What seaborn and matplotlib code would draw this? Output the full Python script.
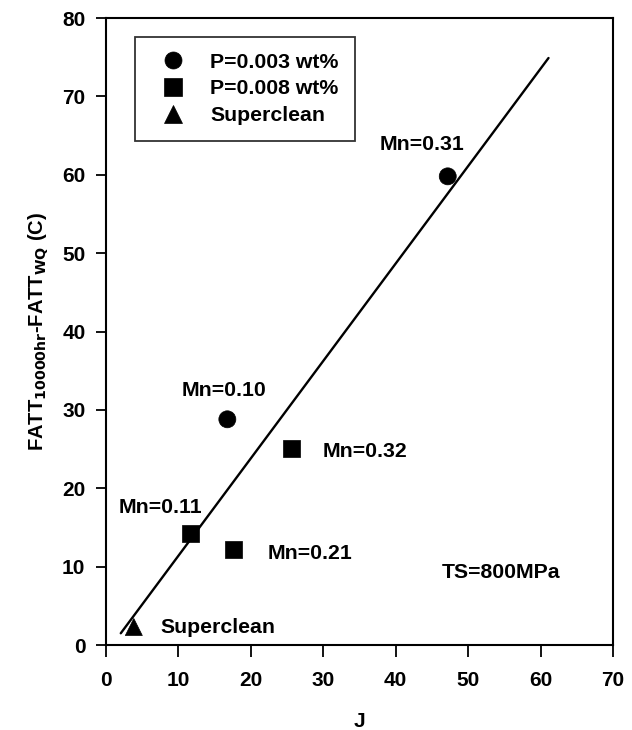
import matplotlib
matplotlib.use("Agg")
import matplotlib.pyplot as plt
import seaborn as sns
import pandas as pd

# Data
groups = ["P=0.003 wt%", "P=0.003 wt%", "P=0.008 wt%", "P=0.008 wt%", "P=0.008 wt%", "Superclean"]
j_vals = [47.2, 16.8, 25.7, 11.7, 17.6, 3.9]
fatt_vals = [59.8, 28.8, 25.1, 14.2, 12.2, 2.3]
point_labels = ["Mn=0.31", "Mn=0.10", "Mn=0.32", "Mn=0.11", "Mn=0.21", "Superclean"]
label_x = [43.7, 16.3, 30.0, 7.6, 22.3, 7.6]
label_y = [63.8, 32.5, 24.7, 17.6, 11.7, 2.3]
label_ha = ["center", "center", "left", "center", "left", "left"]

fit_x = [2.1, 61.1]
fit_y = [1.5, 74.9]

x_ticks = [0, 10, 20, 30, 40, 50, 60, 70]
y_ticks = [0, 10, 20, 30, 40, 50, 60, 70, 80]

sns.set_theme(style="ticks")
plt.rcParams['font.family'] = ['Liberation Sans', 'DejaVu Sans']
plt.rcParams['font.weight'] = 'bold'
for k in ["text.color", "axes.labelcolor", "xtick.color", "ytick.color", "axes.edgecolor"]:
    plt.rcParams[k] = "black"

FS = 15.3

fig = plt.figure(figsize=(6.32, 7.3), dpi=100)
ax = fig.add_axes([0.167, 0.1164, 0.803, 0.8589])

df = pd.DataFrame({"J": j_vals, "FATT": fatt_vals, "group": groups})
markers = {"P=0.003 wt%": "o", "P=0.008 wt%": "s", "Superclean": "^"}
sns.scatterplot(data=df, x="J", y="FATT", style="group", markers=markers,
                color="black", s=150, edgecolor="black", linewidth=0.5,
                ax=ax, legend=True, zorder=3)
sns.lineplot(x=fit_x, y=fit_y, color="black", linewidth=1.7, ax=ax, zorder=2)

for tx, ty, t, ha in zip(label_x, label_y, point_labels, label_ha):
    ax.text(tx, ty, t, ha=ha, va="center", fontsize=FS, fontweight="bold")

ax.text(46.4, 9.3, "TS=800MPa", ha="left", va="center", fontsize=FS, fontweight="bold")

ax.set_xlim(0, 70)
ax.set_ylim(0, 80)
ax.set_xticks(x_ticks)
ax.set_yticks(y_ticks)
ax.tick_params(axis="x", direction="out", length=8.5, width=1.3, pad=10, labelsize=15)
ax.tick_params(axis="y", direction="out", length=7.5, width=1.3, pad=7, labelsize=15)
for lab in ax.get_xticklabels() + ax.get_yticklabels():
    lab.set_fontweight("bold")
for sp in ax.spines.values():
    sp.set_visible(True)
    sp.set_linewidth(1.5)
    sp.set_color("black")

ax.set_xlabel("J", fontsize=15, fontweight="bold", labelpad=16)
ax.set_ylabel(r"FATT$_{\mathbf{10000hr}}$-FATT$_{\mathbf{WQ}}$ (C)", fontsize=14.5,
              fontweight="bold", labelpad=8)

handles, labels = ax.get_legend_handles_labels()
leg = ax.legend(handles, labels, loc="upper left", bbox_to_anchor=(0.059, 0.970),
                borderaxespad=0, frameon=True, fancybox=False, edgecolor="black",
                fontsize=FS, handlelength=2.0, handletextpad=0.78, borderpad=0.75,
                labelspacing=0.36, markerscale=1.0)
leg.get_frame().set_linewidth(1.3)
for t in leg.get_texts():
    t.set_fontweight("bold")

fig.savefig("out.png", dpi=100)
